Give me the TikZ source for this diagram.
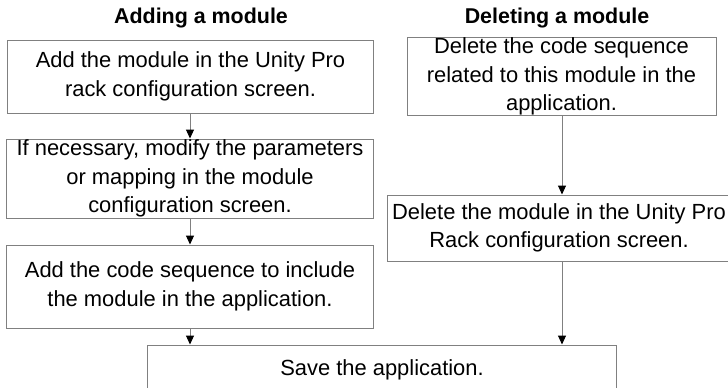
\documentclass[tikz,border=0pt]{standalone}
\usepackage{fontspec}
\setmainfont{Liberation Sans}
\usetikzlibrary{arrows.meta}
\definecolor{edgegray}{HTML}{808080}
\tikzset{
  stepbox/.style={draw=edgegray, line width=1bp, rectangle, align=center, inner sep=0pt,
    font=\fontsize{22}{28.5}\selectfont},
  title/.style={font=\bfseries\fontsize{21.5}{24}\selectfont, inner sep=0pt},
  flow/.style={draw=edgegray, line width=1bp, -{Triangle[width=8bp,length=9bp,color=black]}}
}
\begin{document}
\begin{tikzpicture}[x=1bp,y=-1bp]
\useasboundingbox (0,0) rectangle (728,387);
\node[title] (t1) at (201,18) {Adding a module};
\node[title] (t2) at (557,18) {Deleting a module};
\node[stepbox, minimum width=365bp, minimum height=73bp] (a1) at (190.5,76.5)
  {Add the module in the Unity Pro\\rack configuration screen.};
\node[stepbox, minimum width=366bp, minimum height=79bp] (a2) at (190,178.5)
  {If necessary, modify the parameters\\or mapping in the module\\configuration screen.};
\node[stepbox, minimum width=366bp, minimum height=83bp] (a3) at (190,286.5)
  {Add the code sequence to include\\the module in the application.};
\node[stepbox, minimum width=309bp, minimum height=77bp] (d1) at (561.5,76.5)
  {Delete the code sequence\\related to this module in the\\application.};
\node[stepbox, minimum width=344bp, minimum height=66bp] (d2) at (559,228)
  {Delete the module in the Unity Pro\\Rack configuration screen.};
\node[stepbox, minimum width=468bp, minimum height=50bp] (s) at (382,370)
  {Save the application.};
\draw[flow] (a1.south -| 190,0) -- (a2.north -| 190,0);
\draw[flow] (a2.south -| 190,0) -- (a3.north -| 190,0);
\draw[flow] (a3.south -| 190,0) -- (s.north -| 190,0);
\draw[flow] (d1.south -| 562,0) -- (d2.north -| 562,0);
\draw[flow] (d2.south -| 562,0) -- (s.north -| 562,0);
\end{tikzpicture}
\end{document}
